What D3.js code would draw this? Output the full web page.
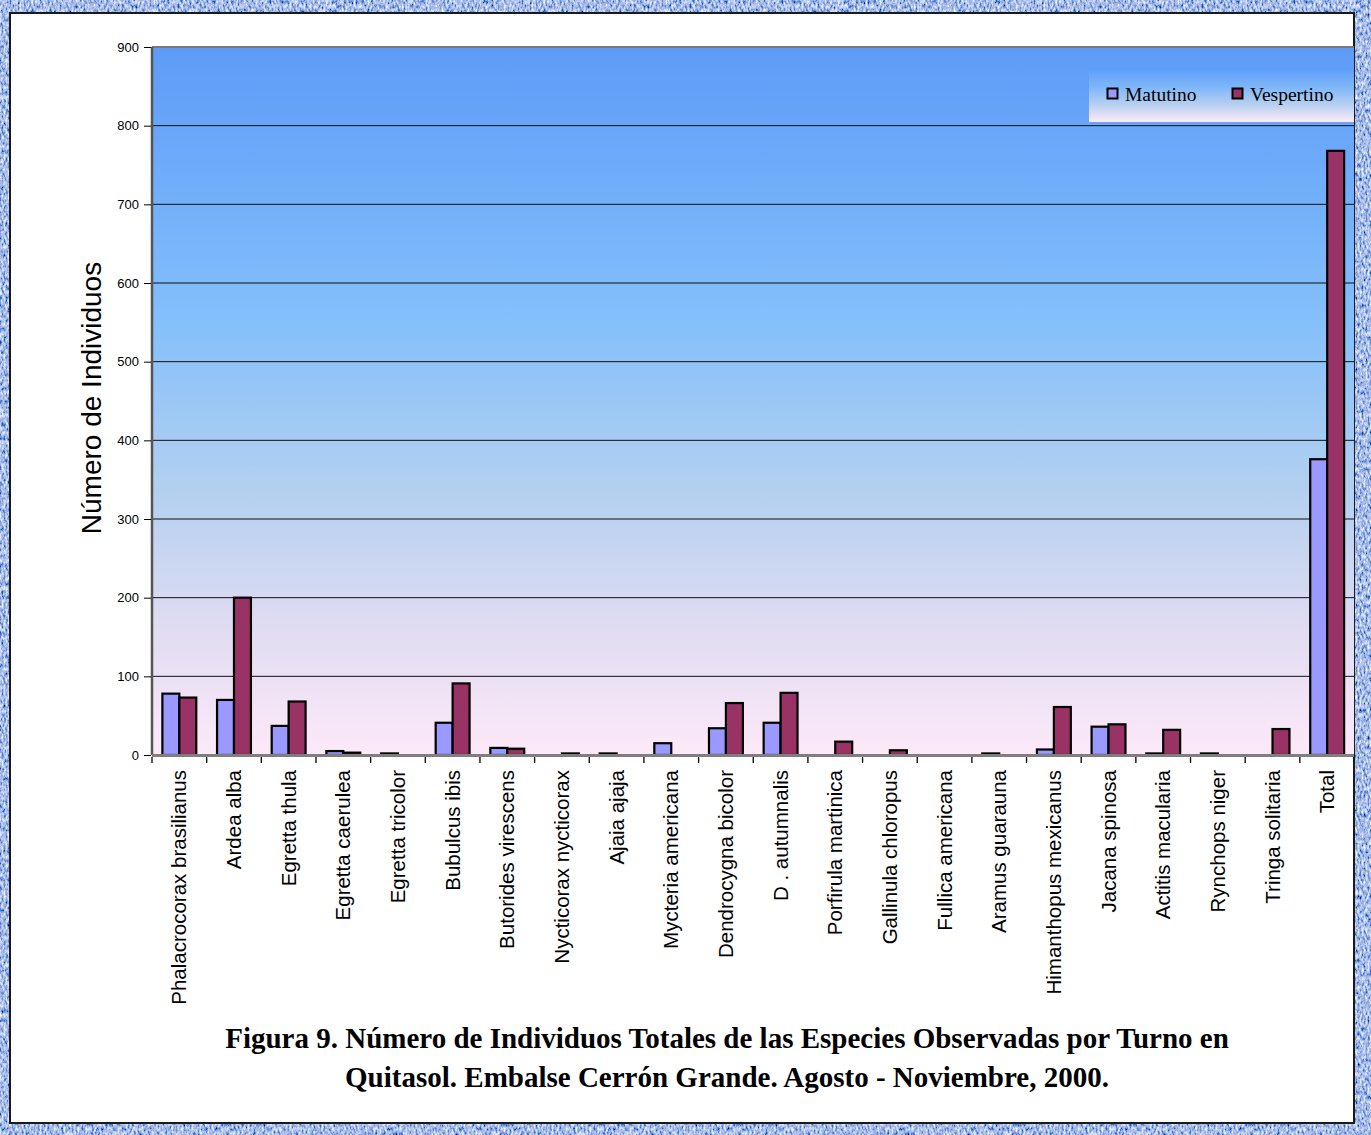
<!DOCTYPE html>
<html>
<head>
<meta charset="utf-8">
<script src="https://cdn.jsdelivr.net/npm/d3@7"></script>
<style>
  html, body { margin: 0; padding: 0; background: #fff; }
  svg { display: block; }
</style>
</head>
<body>
<svg id="chart" width="1371" height="1135"></svg>
<script>
// Species observed at Quitasol, Embalse Cerrón Grande (Aug–Nov 2000)
const species = [
  "Phalacrocorax brasilianus", "Ardea alba", "Egretta thula", "Egretta caerulea",
  "Egretta tricolor", "Bubulcus ibis", "Butorides virescens", "Nycticorax nycticorax",
  "Ajaia ajaja", "Mycteria americana", "Dendrocygna bicolor", "D . autumnalis",
  "Porfirula martinica", "Gallinula chloropus", "Fullica americana", "Aramus guarauna",
  "Himanthopus mexicanus", "Jacana spinosa", "Actitis macularia", "Rynchops niger",
  "Tringa solitaria", "Total"
];
const seriesNames = ["Matutino", "Vespertino"];
const matutino   = [78, 70, 37, 5, 2, 41, 9, 0, 2, 15, 34, 41, 0, 0, 0, 2, 7, 36, 2, 2, 0, 376];
const vespertino = [73, 200, 68, 3, 0, 91, 8, 2, 0, 0, 66, 79, 17, 6, 0, 0, 61, 39, 32, 0, 33, 768];
const yTicks = [0, 100, 200, 300, 400, 500, 600, 700, 800, 900];
const titleLines = [
  "Figura 9. Número de Individuos Totales de las Especies Observadas por Turno en",
  "Quitasol. Embalse Cerrón Grande. Agosto - Noviembre, 2000."
];

const svg = d3.select("#chart");
const W = 1371, H = 1135;
const defs = svg.append("defs");

// Denim-like textured frame
const tex = defs.append("filter").attr("id", "denim")
  .attr("x", 0).attr("y", 0).attr("width", "100%").attr("height", "100%");
tex.append("feTurbulence").attr("type", "fractalNoise")
  .attr("baseFrequency", "0.5 0.22").attr("numOctaves", 3).attr("seed", 7).attr("result", "n");
tex.append("feColorMatrix").attr("in", "n").attr("type", "matrix")
  .attr("values", "1.5 0 0 0 -0.36  1.4 0 0 0 -0.2  0.9 0 0 0 0.36  0 0 0 0 1");

svg.append("rect").attr("width", W).attr("height", H).attr("filter", "url(#denim)");

// White page panel
const panel = { x0: 10, y0: 13, x1: 1354, y1: 1123 };
svg.append("rect")
  .attr("x", panel.x0).attr("y", panel.y0)
  .attr("width", panel.x1 - panel.x0).attr("height", panel.y1 - panel.y0)
  .attr("fill", "#fff").attr("stroke", "#1a1a1a").attr("stroke-width", 2);

// Plot area
const P = { left: 152, top: 47, right: 1354.5, bottom: 755 };
const x = d3.scaleBand().domain(species).range([P.left, P.right]).padding(0);
const bw = x.bandwidth();
const xs = d3.scaleBand().domain(seriesNames).range([bw * 0.19, bw * 0.81]).padding(0);
const y = d3.scaleLinear().domain([0, 900]).range([P.bottom, P.top]);

const bg = defs.append("linearGradient").attr("id", "plotbg")
  .attr("x1", 0).attr("y1", 0).attr("x2", 0).attr("y2", 1);
[[0, "#5d9bf8"], [0.38, "#83bffb"], [0.62, "#b2cff0"], [0.82, "#e0dcf2"], [1, "#fde9f8"]]
  .forEach(([o, c]) => bg.append("stop").attr("offset", o).attr("stop-color", c));

const clip = defs.append("clipPath").attr("id", "pageclip");
clip.append("rect").attr("x", panel.x0).attr("y", panel.y0)
  .attr("width", panel.x1 - panel.x0).attr("height", panel.y1 - panel.y0);

const g = svg.append("g").attr("clip-path", "url(#pageclip)");

g.append("rect")
  .attr("x", P.left).attr("y", P.top)
  .attr("width", P.right - P.left).attr("height", P.bottom - P.top)
  .attr("fill", "url(#plotbg)");

// Gridlines
g.append("g").selectAll("line").data(yTicks.filter(v => v > 0 && v < 900)).join("line")
  .attr("x1", P.left).attr("x2", P.right)
  .attr("y1", d => y(d)).attr("y2", d => y(d))
  .attr("stroke", "#111").attr("stroke-width", 1);

// Plot frame (top and left)
g.append("line").attr("x1", P.left).attr("x2", P.right).attr("y1", P.top).attr("y2", P.top)
  .attr("stroke", "#7a7a7a").attr("stroke-width", 2);
g.append("line").attr("x1", P.left).attr("x2", P.left).attr("y1", P.top).attr("y2", P.bottom)
  .attr("stroke", "#555").attr("stroke-width", 2.5);

// Bars
const rows = species.map((s, i) => ({ s, vals: [matutino[i], vespertino[i]] }));
const colors = { "Matutino": "#9999ff", "Vespertino": "#993366" };
const groups = g.append("g").selectAll("g").data(rows).join("g")
  .attr("transform", d => `translate(${x(d.s)},0)`);
groups.selectAll("rect")
  .data(d => seriesNames.map((n, k) => ({ n, v: d.vals[k] })).filter(e => e.v > 0))
  .join("rect")
  .attr("x", d => xs(d.n))
  .attr("y", d => y(d.v))
  .attr("width", xs.bandwidth())
  .attr("height", d => y(0) - y(d.v))
  .attr("fill", d => colors[d.n])
  .attr("stroke", "#000").attr("stroke-width", 2.2);

// Baseline
g.append("line").attr("x1", P.left).attr("x2", P.right).attr("y1", P.bottom + 0.5).attr("y2", P.bottom + 0.5)
  .attr("stroke", "#7f7f7f").attr("stroke-width", 3);

// Y axis
const yAxis = d3.axisLeft(y).tickValues(yTicks).tickSize(7).tickPadding(5).tickFormat(d3.format("d"));
const ya = svg.append("g").attr("transform", `translate(${P.left - 1},0)`).call(yAxis);
ya.select(".domain").remove();
ya.selectAll(".tick line").attr("stroke", "#000").attr("stroke-width", 1);
ya.selectAll(".tick text").attr("font-family", "Arial, 'Liberation Sans', sans-serif")
  .attr("font-size", 13).attr("fill", "#000");

// X axis ticks at category boundaries
const bounds = species.map(s => x(s)).concat([P.right]);
g.append("g").selectAll("line").data(bounds).join("line")
  .attr("x1", d => d).attr("x2", d => d)
  .attr("y1", P.bottom + 2).attr("y2", P.bottom + 8)
  .attr("stroke", "#000").attr("stroke-width", 1.3);

// Category labels, rotated
g.append("g").selectAll("text").data(species).join("text")
  .attr("transform", d => `translate(${x(d) + bw / 2 + 7},${P.bottom + 15}) rotate(-90)`)
  .attr("text-anchor", "end")
  .attr("font-family", "Arial, 'Liberation Sans', sans-serif")
  .attr("font-size", 20.5).attr("fill", "#000")
  .text(d => d);

// Y axis title
svg.append("text")
  .attr("transform", `translate(101,398) rotate(-90)`)
  .attr("text-anchor", "middle")
  .attr("font-family", "Arial, 'Liberation Sans', sans-serif")
  .attr("font-size", 28).attr("fill", "#000")
  .text("Número de Individuos");

// Legend
const lg = defs.append("linearGradient").attr("id", "legbg")
  .attr("x1", 0).attr("y1", 0).attr("x2", 0).attr("y2", 1);
[[0, "#5e9ef8"], [0.35, "#7fb7f8"], [0.7, "#bcd2f0"], [1, "#fdebf9"]]
  .forEach(([o, c]) => lg.append("stop").attr("offset", o).attr("stop-color", c));
const leg = g.append("g");
leg.append("rect").attr("x", 1089).attr("y", 69).attr("width", 266).attr("height", 53)
  .attr("fill", "url(#legbg)");
const legX = { "Matutino": 1107, "Vespertino": 1232 };
const li = leg.selectAll("g.item").data(seriesNames).join("g").attr("class", "item")
  .attr("transform", d => `translate(${legX[d]},88)`);
li.append("rect").attr("x", 0.5).attr("y", 0.5).attr("width", 10).attr("height", 10)
  .attr("fill", d => colors[d]).attr("stroke", "#000").attr("stroke-width", 2);
li.append("text").attr("x", 18).attr("y", 13)
  .attr("font-family", "'Times New Roman', 'Liberation Serif', serif")
  .attr("font-size", 19.5).attr("fill", "#000")
  .text(d => d);

// Figure caption
svg.append("g").selectAll("text").data(titleLines).join("text")
  .attr("x", 727).attr("y", (d, i) => 1048 + i * 39)
  .attr("text-anchor", "middle")
  .attr("font-family", "'Times New Roman', 'Liberation Serif', serif")
  .attr("font-weight", "bold").attr("font-size", 29).attr("fill", "#000")
  .text(d => d);
</script>
</body>
</html>
